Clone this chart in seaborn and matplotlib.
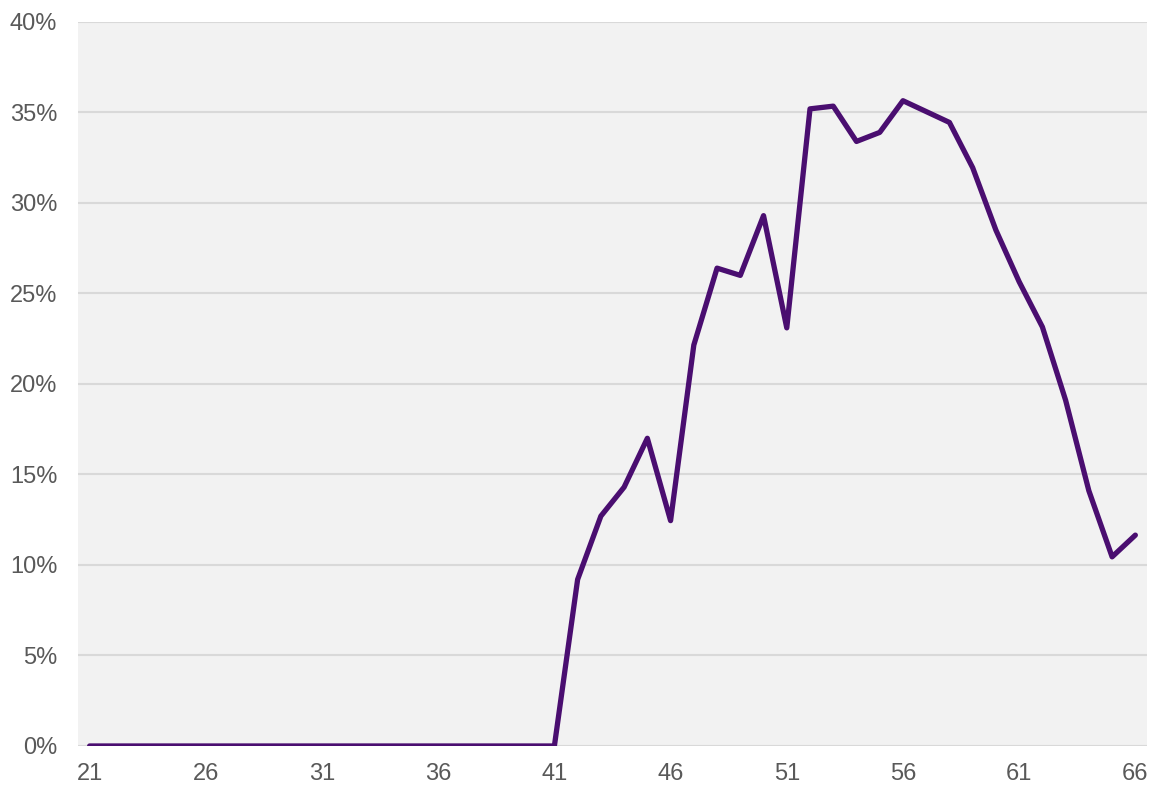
import matplotlib
matplotlib.use("Agg")
import matplotlib.pyplot as plt
import seaborn as sns
import pandas as pd
from matplotlib.ticker import FuncFormatter

ages = list(range(21, 67))
share_pct = [0.0] * 21 + [
    9.2, 12.7, 14.3, 17.0, 12.45, 22.15, 26.4, 26.0, 29.3, 23.1,
    35.2, 35.35, 33.4, 33.9, 35.65, 35.05, 34.45, 31.95, 28.5, 25.65,
    23.15, 19.1, 14.1, 10.45, 11.65,
]
xtick_values = [21, 26, 31, 36, 41, 46, 51, 56, 61, 66]
ytick_values = [0, 0.05, 0.10, 0.15, 0.20, 0.25, 0.30, 0.35, 0.40]

df = pd.DataFrame({"age": ages, "share": [v / 100 for v in share_pct]})

sns.set_theme(style="white")
plt.rcParams["font.family"] = ["Liberation Sans", "DejaVu Sans"]

fig, ax = plt.subplots(figsize=(11.54, 7.85), dpi=100)
fig.subplots_adjust(left=0.0676, right=0.9939, top=0.972, bottom=0.0497)
ax.set_facecolor("#f2f2f2")

sns.lineplot(data=df, x="age", y="share", ax=ax, color="#4a0e70",
             linewidth=3.8, solid_joinstyle="round", solid_capstyle="round", zorder=3)

ax.set_xlim(20.5, 66.5)
ax.set_ylim(0, 0.40)
ax.set_xticks(xtick_values)
ax.set_yticks(ytick_values)
ax.yaxis.set_major_formatter(FuncFormatter(lambda v, p: f"{v*100:.0f}%"))
ax.grid(axis="y", color="#d9d9d9", linewidth=1.5, zorder=0)
ax.grid(axis="x", visible=False)
ax.set_axisbelow(True)
for s in ax.spines.values():
    s.set_visible(False)
ax.set_xlabel("")
ax.set_ylabel("")
ax.tick_params(axis="y", labelsize=17, labelcolor="#595959", length=0, pad=15)
ax.tick_params(axis="x", labelsize=17, labelcolor="#595959", length=0, pad=12)

fig.savefig("out.png", dpi=100)
